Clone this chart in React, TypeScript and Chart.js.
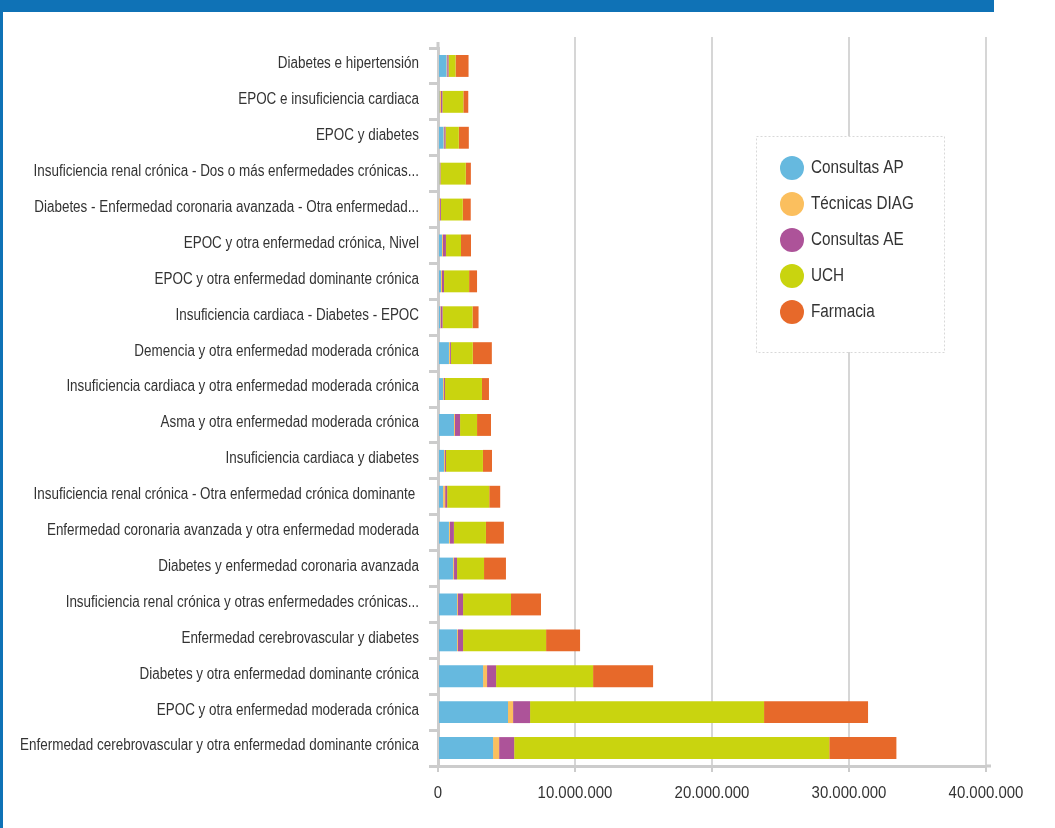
import React, { useEffect, useRef } from "react";
import { Chart, registerables } from "chart.js";

Chart.register(...registerables);

const categories = [
  "Diabetes e hipertensión",
  "EPOC e insuficiencia cardiaca",
  "EPOC y diabetes",
  "Insuficiencia renal crónica - Dos o más enfermedades crónicas...",
  "Diabetes - Enfermedad coronaria avanzada - Otra enfermedad...",
  "EPOC y otra enfermedad crónica, Nivel",
  "EPOC y otra enfermedad dominante crónica",
  "Insuficiencia cardiaca - Diabetes - EPOC",
  "Demencia y otra enfermedad moderada crónica",
  "Insuficiencia cardiaca y otra enfermedad moderada crónica",
  "Asma y otra enfermedad moderada crónica",
  "Insuficiencia cardiaca y diabetes",
  "Insuficiencia renal crónica - Otra enfermedad crónica dominante ",
  "Enfermedad coronaria avanzada y otra enfermedad moderada",
  "Diabetes y enfermedad coronaria avanzada",
  "Insuficiencia renal crónica y otras enfermedades crónicas...",
  "Enfermedad cerebrovascular y diabetes",
  "Diabetes y otra enfermedad dominante crónica",
  "EPOC y otra enfermedad moderada crónica",
  "Enfermedad cerebrovascular y otra enfermedad dominante crónica",
];

const consultasAP = [620000, 100000, 400000, 100000, 70000, 290000, 220000, 150000, 800000, 370000, 1170000, 440000, 370000, 800000, 1100000, 1390000, 1390000, 3290000, 5110000, 4020000];
const tecnicasDIAG = [50000, 120000, 50000, 50000, 70000, 70000, 70000, 30000, 70000, 70000, 70000, 70000, 150000, 70000, 70000, 70000, 70000, 290000, 370000, 440000];
const consultasAE = [100000, 100000, 100000, 30000, 70000, 220000, 150000, 150000, 70000, 70000, 370000, 70000, 150000, 290000, 220000, 370000, 370000, 660000, 1240000, 1100000];
const uch = [510000, 1530000, 970000, 1850000, 1600000, 1100000, 1830000, 2190000, 1600000, 2700000, 1240000, 2700000, 3070000, 2340000, 1970000, 3500000, 6060000, 7080000, 17080000, 23000000];
const farmacia = [950000, 360000, 730000, 370000, 580000, 730000, 580000, 440000, 1390000, 510000, 1020000, 660000, 800000, 1310000, 1600000, 2190000, 2480000, 4380000, 7590000, 4900000];

const seriesNames = ["Consultas AP", "Técnicas DIAG", "Consultas AE", "UCH", "Farmacia"];
const seriesColors = ["#66b9df", "#fbbf5e", "#ad5399", "#c9d40f", "#e7692a"];

const xMin = 0;
const xMax = 40000000;
const xStep = 10000000;

const FONT = "'Liberation Sans', Arial, sans-serif";
const TEXT_COLOR = "#333333";

function condensedText(ctx: any, text: string, x: number, y: number, size: number, sx: number, align: string) {
  ctx.save();
  ctx.translate(x, y);
  ctx.scale(sx, 1);
  ctx.font = size + "px " + FONT;
  ctx.fillStyle = TEXT_COLOR;
  ctx.textAlign = align;
  ctx.textBaseline = "middle";
  ctx.fillText(text, 0, 0);
  ctx.restore();
}

const fmt = (v: number) => String(v).replace(/\B(?=(\d{3})+(?!\d))/g, ".");

const decorPlugin = {
  id: "decor",
  beforeDatasetsDraw(chart: any) {
    const ctx = chart.ctx;
    const xs = chart.scales.x;
    const area = chart.chartArea;
    ctx.save();
    ctx.strokeStyle = "#d6d6d6";
    ctx.lineWidth = 2;
    xs.ticks.forEach((t: any) => {
      const px = xs.getPixelForValue(t.value);
      if (t.value === 0) return;
      ctx.beginPath();
      ctx.moveTo(px, area.top - 11);
      ctx.lineTo(px, area.top);
      ctx.stroke();
    });
    ctx.strokeStyle = "#cccccc";
    ctx.lineWidth = 3;
    ctx.beginPath();
    ctx.moveTo(area.left, area.top - 6);
    ctx.lineTo(area.left, area.top);
    ctx.moveTo(area.right, area.bottom);
    ctx.lineTo(area.right + 5, area.bottom);
    ctx.stroke();
    ctx.restore();
  },
  afterDraw(chart: any) {
    const ctx = chart.ctx;
    const xs = chart.scales.x;
    const ys = chart.scales.y;
    const area = chart.chartArea;
    chart.data.labels.forEach((lab: string, i: number) => {
      const py = ys.getPixelForTick(i);
      condensedText(ctx, lab, area.left - 19, py - 2, 16, 0.84, "right");
    });
    xs.ticks.forEach((t: any) => {
      const px = xs.getPixelForValue(t.value);
      condensedText(ctx, fmt(t.value), px, area.bottom + 27, 17, 0.88, "center");
    });
    ctx.save();
    const x0 = 756, y0 = 136, w = 188, h = 216;
    ctx.fillStyle = "#ffffff";
    ctx.fillRect(x0, y0, w, h);
    ctx.setLineDash([2, 2]);
    ctx.strokeStyle = "#d8d8d8";
    ctx.lineWidth = 1;
    ctx.strokeRect(x0 + 0.5, y0 + 0.5, w, h);
    ctx.setLineDash([]);
    chart.data.datasets.forEach((ds: any, i: number) => {
      const cy = 168 + i * 36;
      ctx.beginPath();
      ctx.arc(792, cy, 12, 0, Math.PI * 2);
      ctx.fillStyle = ds.backgroundColor;
      ctx.fill();
      condensedText(ctx, ds.label, 811, cy, 18, 0.85, "left");
    });
    ctx.restore();
  },
};

export default function App() {
  const ref = useRef<HTMLCanvasElement | null>(null);

  useEffect(() => {
    document.body.style.margin = "0";
    const canvas = ref.current;
    if (!canvas) return;
    const values = [consultasAP, tecnicasDIAG, consultasAE, uch, farmacia];
    const chart = new Chart(canvas, {
      type: "bar",
      data: {
        labels: categories,
        datasets: values.map((d, i) => ({
          label: seriesNames[i],
          data: d,
          backgroundColor: seriesColors[i],
          borderWidth: 0,
          barPercentage: 0.61,
          categoryPercentage: 1,
        })),
      },
      options: {
        indexAxis: "y",
        animation: false,
        responsive: false,
        devicePixelRatio: 1,
        layout: { padding: { left: 0, right: 69, top: 48, bottom: 0 } },
        plugins: {
          legend: { display: false },
          tooltip: { enabled: false },
          title: { display: false },
        },
        scales: {
          x: {
            type: "linear",
            stacked: true,
            min: xMin,
            max: xMax,
            afterFit(scale: any) {
              scale.height = 62;
            },
            ticks: {
              stepSize: xStep,
              display: false,
            },
            grid: {
              color: "#d6d6d6",
              lineWidth: 2,
              tickColor: "#cccccc",
              tickLength: 6,
            },
            border: { display: true, color: "#cccccc", width: 3 },
          },
          y: {
            stacked: true,
            afterFit(scale: any) {
              scale.width = 438;
            },
            ticks: {
              display: false,
              autoSkip: false,
            },
            grid: {
              offset: true,
              drawOnChartArea: false,
              color: "#cccccc",
              tickColor: "#cccccc",
              lineWidth: 3,
              tickLength: 9,
            },
            border: { display: true, color: "#cccccc", width: 3 },
          },
        },
      },
      plugins: [decorPlugin],
    } as any);
    return () => chart.destroy();
  }, []);

  return (
    <div style={{ position: "relative", width: 1055, height: 828, background: "#ffffff", overflow: "hidden" }}>
      <canvas ref={ref} width={1055} height={828} style={{ position: "absolute", left: 0, top: 0, width: 1055, height: 828 }} />
      <div style={{ position: "absolute", left: 0, top: 0, width: 994, height: 12, background: "#0f72b6" }} />
      <div style={{ position: "absolute", left: 0, top: 0, width: 3, height: 828, background: "#0f72b6" }} />
    </div>
  );
}
